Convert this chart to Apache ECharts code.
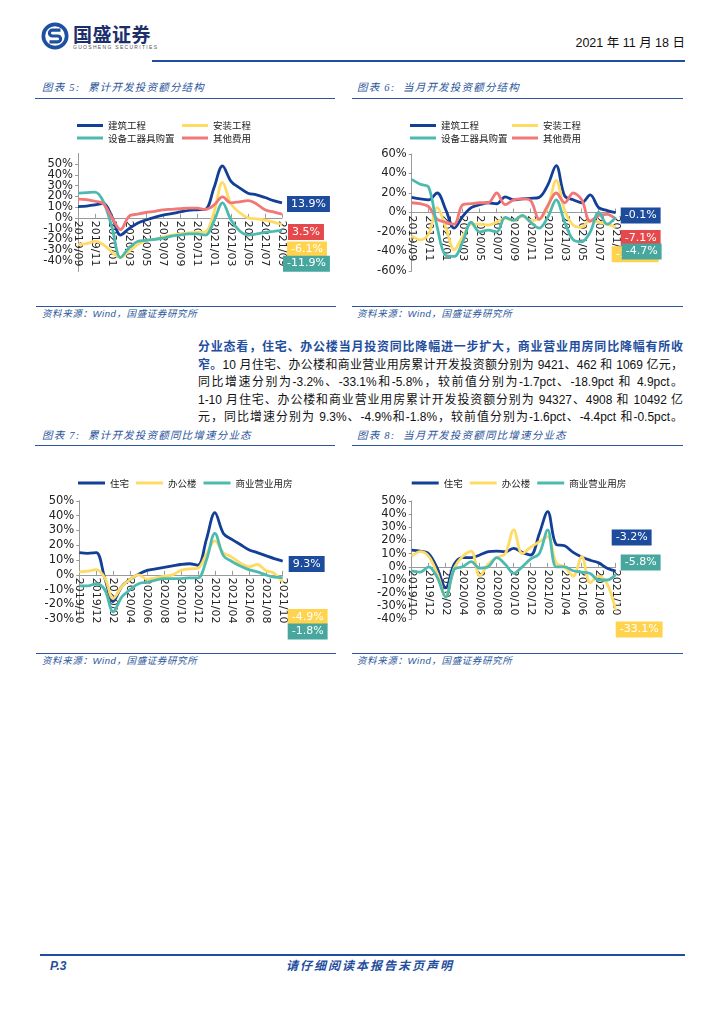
<!DOCTYPE html>
<html><head><meta charset="utf-8">
<script src="https://cdn.jsdelivr.net/npm/echarts@6/dist/echarts.min.js"></script>
<style>
html,body{margin:0;padding:0;background:#fff;width:724px;height:1024px;overflow:hidden;}
body{position:relative;font-family:"Liberation Sans","Noto Sans CJK SC",sans-serif;}
.abs{position:absolute;}
.title{position:absolute;font-size:10.5px;line-height:12px;color:#2B569B;font-style:italic;white-space:nowrap;letter-spacing:1.2px;font-family:"Liberation Serif","Noto Sans CJK SC",serif;}
.rule{position:absolute;height:0;border-top:1.6px solid #2B569B;}
.src{position:absolute;font-size:9.5px;line-height:11px;color:#2B569B;font-style:italic;white-space:nowrap;letter-spacing:0.6px;font-family:"Liberation Sans","Noto Sans CJK SC",sans-serif;}
.para{position:absolute;left:198px;top:339px;width:485px;}
.para div{height:17.5px;line-height:17.5px;text-align:justify;text-align-last:justify;font-size:12px;color:#111;overflow:visible;}
.bold{font-weight:bold;color:#1F4E9E;}
.chart{position:absolute;}
</style>
</head>
<body>
<!-- header -->
<svg class="abs" style="left:40px;top:21px" width="30" height="30" viewBox="0 0 30 30">
  <circle cx="15" cy="15" r="13.5" fill="#1E50A0"/>
  <circle cx="15" cy="15" r="9.8" fill="#fff"/>
  <path d="M20.5 9.2 H12.3 a2.9 2.9 0 0 0 0 5.8 h5.4 a2.9 2.9 0 0 1 0 5.8 H9.5" stroke="#1E50A0" stroke-width="3.2" fill="none"/>
</svg>
<div class="abs" style="left:73px;top:23px;font-size:19px;line-height:22px;font-weight:bold;color:#1C2F6B;font-family:'Noto Sans CJK SC';letter-spacing:0.5px;">国盛证券</div>
<div class="abs" style="left:73px;top:44px;font-size:5px;line-height:6px;color:#555;letter-spacing:1.3px;white-space:nowrap;">GUOSHENG SECURITIES</div>
<div class="abs" style="right:39px;top:35px;font-size:12.5px;line-height:16px;color:#111;white-space:nowrap;">2021 年 11 月 18 日</div>
<div class="rule" style="left:152px;top:60px;width:533px;border-top:2px solid #1F4E9E;"></div>

<!-- chart titles row 1 -->
<div class="title" style="left:42px;top:82px;">图表 5:&nbsp; 累计开发投资额分结构</div>
<div class="rule" style="left:35px;top:98px;width:300px;"></div>
<div class="title" style="left:357px;top:82px;">图表 6:&nbsp; 当月开发投资额分结构</div>
<div class="rule" style="left:352px;top:98px;width:331px;"></div>

<div id="c5" class="chart" style="left:35px;top:100px;width:300px;height:200px;"></div>
<div id="c6" class="chart" style="left:357px;top:100px;width:330px;height:200px;"></div>

<div class="rule" style="left:36px;top:306px;width:300px;"></div>
<div class="src" style="left:42px;top:308px;">资料来源：Wind，国盛证券研究所</div>
<div class="rule" style="left:352px;top:306px;width:331px;"></div>
<div class="src" style="left:357px;top:308px;">资料来源：Wind，国盛证券研究所</div>

<!-- paragraph -->
<div class="para" id="para">
  <div><span class="bold">分业态看，住宅、办公楼当月投资同比降幅进一步扩大，商业营业用房同比降幅有所收</span></div>
  <div><span class="bold">窄。</span>10 月住宅、办公楼和商业营业用房累计开发投资额分别为 9421、462 和 1069 亿元，</div>
  <div>同比增速分别为-3.2%、-33.1%和-5.8%，较前值分别为-1.7pct、-18.9pct 和 4.9pct。</div>
  <div>1-10 月住宅、办公楼和商业营业用房累计开发投资额分别为 94327、4908 和 10492 亿</div>
  <div>元，同比增速分别为 9.3%、-4.9%和-1.8%，较前值分别为-1.6pct、-4.4pct 和-0.5pct。</div>
</div>

<!-- chart titles row 2 -->
<div class="title" style="left:42px;top:430px;">图表 7:&nbsp; 累计开发投资额同比增速分业态</div>
<div class="rule" style="left:35px;top:445px;width:300px;"></div>
<div class="title" style="left:357px;top:430px;">图表 8:&nbsp; 当月开发投资额同比增速分业态</div>
<div class="rule" style="left:352px;top:445px;width:331px;"></div>

<div id="c7" class="chart" style="left:35px;top:445px;width:300px;height:207px;"></div>
<div id="c8" class="chart" style="left:357px;top:445px;width:330px;height:207px;"></div>

<div class="rule" style="left:36px;top:653px;width:300px;"></div>
<div class="src" style="left:42px;top:655px;">资料来源：Wind，国盛证券研究所</div>
<div class="rule" style="left:352px;top:653px;width:331px;"></div>
<div class="src" style="left:357px;top:655px;">资料来源：Wind，国盛证券研究所</div>

<!-- footer -->
<div class="rule" style="left:40px;top:954px;width:645px;border-top:2px solid #1F4E9E;"></div>
<div class="abs" style="left:50px;top:958px;font-size:12px;line-height:16px;font-weight:bold;font-style:italic;color:#1F4E9E;">P.3</div>
<div class="abs" style="left:270px;top:958px;width:200px;text-align:center;font-size:12px;line-height:16px;font-weight:bold;font-style:italic;color:#1F4E9E;white-space:nowrap;letter-spacing:2px;">请仔细阅读本报告末页声明</div>

<script>
// ---------- data ----------
const cats5 = ['2019/09','2019/10','2019/11','2019/12','2020/01','2020/02','2020/03','2020/04','2020/05','2020/06','2020/07','2020/08','2020/09','2020/10','2020/11','2020/12','2021/01','2021/02','2021/03','2021/04','2021/05','2021/06','2021/07','2021/08','2021/09'];
const cats7 = ['2019/10','2019/11','2019/12','2020/01','2020/02','2020/03','2020/04','2020/05','2020/06','2020/07','2020/08','2020/09','2020/10','2020/11','2020/12','2021/01','2021/02','2021/03','2021/04','2021/05','2021/06','2021/07','2021/08','2021/09','2021/10'];

// 图表5 累计开发投资额分结构 (%)
const build5   = [10.5, 11, 12, 13.5, 1, -16, -10, -5, -2, 0.5, 2.5, 4, 5.5, 7, 7.5, 8, 28, 48.5, 34, 28, 23, 21.5, 19, 16, 13.9];
const install5 = [-25, -24, -22, -25, -32, -37, -31, -25, -21, -20, -18, -16, -15, -14, -13.5, -13, 5, 33, 13, 5, 0, -1, -2, -4, -6.1];
const equip5   = [23, 23.5, 24, 15, -9, -37, -28, -22, -21, -20, -19, -17, -16, -15, -15, -16, -3, 14, -2, -12, -16, -15, -13.5, -12.5, -11.9];
const other5   = [17.5, 17, 15.5, 13, 0, -11, 1.5, 3.5, 5, 6, 7.5, 8, 8.5, 9, 9, 8, 12, 19.5, 14, 15, 16, 13, 7.5, 5.5, 3.5];

// 图表6 当月开发投资额分结构 (%)
const build6   = [15.5, 14, 13, 20, 3, -16, -4, 5, 8, 10, 9, 16, 13, 14, 14.5, 15.5, 28, 48, 17, 13, 10, 18, 5, 2, -0.1];
const install6 = [-24, -28, -22, 5, -15, -38, -25, -12, -12, -13, -10, -6, -8, -4, -8, -7, 5, 33, 2, -13, -15, -8, -10, -12, -15];
const equip6   = [34, 29, 26, -15, -44, -45, -30, -10, -20, -18, -20, -5, -8, -3, -10, -16, -5, 13, -10, -28, -30, -20, 0, -12, -4.7];
const other6   = [10, 9, 6, -7, -10, -12, 8, 9, 10, 10, 20, 8, 13, 14, 12, -7, 7, 20, 10, 20, 13, -9, -3, -2, -7.1];

// 图表7 累计开发投资额同比增速分业态 (%)
const res7    = [15, 14.5, 15, -2, -18, -8, -3, 0.5, 3, 4, 5, 6, 7, 7.5, 6.5, 24, 42, 28, 24, 20.5, 17, 15, 13, 11, 9.3];
const office7 = [2, 2.5, 3.5, -2, -16, -8, -3, 0, -3, -2, -1, 0, 3, 4, 4.5, 14, 23, 15, 12, 8, 5.5, 7, 3, 1, -4.9];
const comm7   = [-7.5, -7.5, -6, -10, -25, -15, -10, -6, -5, -3.5, -2.5, -2.5, -2.5, -2, -2, 10, 28, 13, 9, 6, 3.5, 2, 0, -1.5, -1.8];

// 图表8 当月开发投资额同比增速分业态 (%)
const res8    = [12.7, 12, 10, -1, -16, 2, 7, 7, 9, 11.5, 12, 11.5, 14, 11, 9, 25, 42, 17, 16, 11, 7.5, 5, 3, -1, -3.2];
const office8 = [8, 11.5, 8, -5, -22, -1, 8, 12, -7, 2, 7, 10, 28, 10, 15, 19, 23, 3, 0, -7, 8, -12, -7, -13, -33.1];
const comm8   = [-3, -4, 0, -8, -23, -2, 0, 4, -1, 0, 7, 2, -5, 0, 6, 10, 28, 0, 0, -3, -4, -5, -10, -10, -5.8];

const names5 = ['建筑工程','安装工程','设备工器具购置','其他费用'];
const names7 = ['住宅','办公楼','商业营业用房'];

// ---------- styling ----------
const C = {blue:'#133F96', yellow:'#FFDB66', teal:'#4DBAB0', red:'#F27878'};
const BOX = {blue:'#1D4C9C', yellow:'#FFD34E', teal:'#47A79E', red:'#E5494B'};
const axisFont = 'DejaVu Sans';
const legendText = {fontSize:9.5, color:'#222', fontFamily:'Noto Sans CJK SC', lineHeight:12};

function fmt(v){ return v.toFixed(1) + '%'; }

function build(el, cfg){
  const chart = echarts.init(document.getElementById(el), null, {renderer:'canvas'});
  const [ymin, ymax, yint] = cfg.y;
  const gh = cfg.grid[3];
  // move the category axis up so that it sits on the 0 value line
  const zeroOffset = -gh * (0 - ymin) / (ymax - ymin);
  const series = cfg.series.map(s => ({
    type:'line', name:s.name, data:s.data, smooth:0.35, symbol:'none',
    lineStyle:{width:2.8, color:s.color}, itemStyle:{color:s.color},
    endLabel:{show:true, formatter:() => fmt(s.data[s.data.length-1]), offset:s.off,
      distance:5, fontSize:11, fontFamily:axisFont, color:'#fff', backgroundColor:s.box,
      padding:[2,4,1,4], lineHeight:13}
  }));
  chart.setOption({
    animation:false,
    grid:{left:cfg.grid[0], top:cfg.grid[1], width:cfg.grid[2], height:gh, containLabel:false, outerBoundsMode:'none'},
    legend: cfg.legend,
    xAxis:{type:'category', data:cfg.cats, boundaryGap:false, position:'bottom', offset:zeroOffset,
      axisLine:{onZero:false, lineStyle:{color:'#9a9a9a', width:1}},
      axisTick:{show:true, inside:true, length:4, interval:1, lineStyle:{color:'#9a9a9a'}},
      axisLabel:{interval:1, rotate:-90, fontSize:11, color:'#222', fontFamily:axisFont, margin:3, overflow:'none', hideOverlap:false}},
    yAxis:{type:'value', min:ymin, max:ymax, interval:yint,
      axisLine:{show:true, lineStyle:{color:'#9a9a9a', width:1}},
      axisTick:{show:true, length:3, lineStyle:{color:'#9a9a9a'}},
      splitLine:{show:false},
      axisLabel:{formatter:'{value}%', fontSize:11.5, color:'#222', fontFamily:axisFont, margin:5}},
    series
  });
}

function twoColLegend(x1, x2, top, colA, colB){
  const base = {orient:'vertical', top, icon:'rect', itemWidth:26, itemHeight:3, itemGap:0.5, textStyle:legendText, selectedMode:false};
  return [Object.assign({left:x1, data:colA}, base), Object.assign({left:x2, data:colB}, base)];
}
function rowLegend(x, top){
  return {orient:'horizontal', left:x, top, icon:'rect', itemWidth:27, itemHeight:3, itemGap:7, textStyle:legendText, selectedMode:false, data:names7};
}

build('c5', {
  cats:cats5, y:[-50,60,10], grid:[43,53.5,204,118],
  legend: twoColLegend(37, 142, 14.5, [names5[0], names5[2]], [names5[1], names5[3]]),
  series:[
    {name:names5[0], data:build5, color:C.blue, box:BOX.blue, off:[0,1]},
    {name:names5[1], data:install5, color:C.yellow, box:BOX.yellow, off:[0,25]},
    {name:names5[2], data:equip5, color:C.teal, box:BOX.teal, off:[-4,33]},
    {name:names5[3], data:other5, color:C.red, box:BOX.red, off:[1,18]}
  ]
});
build('c6', {
  cats:cats5, y:[-60,60,20], grid:[54.7,54,204,117],
  legend: twoColLegend(48, 150, 14.5, [names5[0], names5[2]], [names5[1], names5[3]]),
  series:[
    {name:names5[0], data:build6, color:C.blue, box:BOX.blue, off:[0,3]},
    {name:names5[1], data:install6, color:C.yellow, box:BOX.yellow, off:[-9,27]},
    {name:names5[3], data:other6, color:C.red, box:BOX.red, off:[0,18.5]},
    {name:names5[2], data:equip6, color:C.teal, box:BOX.teal, off:[1,34.5]}
  ]
});
build('c7', {
  cats:cats7, y:[-30,50,10], grid:[44.3,55.8,203.4,118.5],
  legend: rowLegend(38, 27),
  series:[
    {name:names7[0], data:res7, color:C.blue, box:BOX.blue, off:[1,3]},
    {name:names7[1], data:office7, color:C.yellow, box:BOX.yellow, off:[0,35]},
    {name:names7[2], data:comm7, color:C.teal, box:BOX.teal, off:[0,54]}
  ]
});
build('c8', {
  cats:cats7, y:[-40,50,10], grid:[54.7,56,204,118.5],
  legend: rowLegend(49.7, 27),
  series:[
    {name:names7[0], data:res8, color:C.blue, box:BOX.blue, off:[-9,-33.5]},
    {name:names7[1], data:office8, color:C.yellow, box:BOX.yellow, off:[-5,19]},
    {name:names7[2], data:comm8, color:C.teal, box:BOX.teal, off:[0,-12]}
  ]
});

// fit paragraph lines to width
document.querySelectorAll('#para div').forEach(d => {
  const range = document.createRange();
  range.selectNodeContents(d);
  let size = 12;
  d.style.fontSize = size + 'px';
  let w = range.getBoundingClientRect().width;
  if (w > 484) { size = size * 483 / w; d.style.fontSize = size.toFixed(2) + 'px'; }
});
</script>
</body></html>
